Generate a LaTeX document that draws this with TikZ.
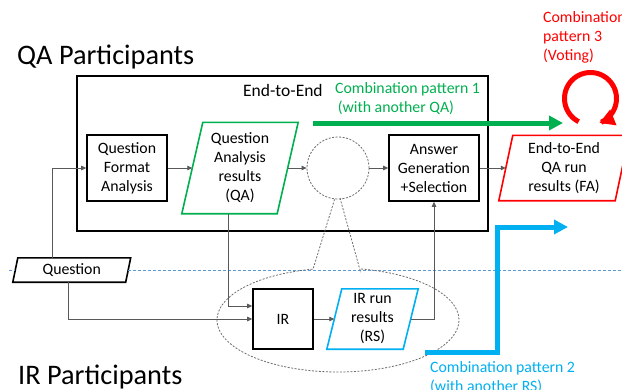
\documentclass[tikz,border=0pt]{standalone}
\usepackage{fontspec}
\setmainfont{Carlito}
\usetikzlibrary{arrows.meta,calc}
\definecolor{qagreen}{RGB}{0,176,80}
\definecolor{fared}{RGB}{255,0,0}
\definecolor{irblue}{RGB}{0,176,240}
\definecolor{sepblue}{RGB}{91,155,213}
\definecolor{conngray}{RGB}{89,89,89}
\definecolor{callgray}{RGB}{110,110,110}
\newcommand\bodyfont{\fontsize{15.8}{19}\selectfont}
\newcommand\labelfont{\fontsize{17.5}{19}\selectfont}
\newcommand\bigfont{\fontsize{28.3}{32}\selectfont}
\newcommand\paradraw[3]{\path[#1] ([xshift=#3]#2.north west) -- ([xshift=#3]#2.north east) -- ([xshift=-#3]#2.south east) -- ([xshift=-#3]#2.south west) -- cycle;}
\begin{document}
\begin{tikzpicture}[x=1pt,y=-1pt,
 txt/.style={font=\bodyfont,align=center,inner sep=0pt},
 stepbox/.style={txt,draw=black,line width=1.6pt},
 conn/.style={draw=conngray,line width=0.8pt,-{Triangle[length=5pt,width=4.5pt]}},
 bigarrow/.style={line width=5pt,-{Triangle[length=14pt,width=14pt]}},
 note/.style={font=\bodyfont,align=left,inner sep=0pt,anchor=base west},
 title/.style={font=\bigfont,inner sep=0pt,anchor=base west},
 callout/.style={draw=callgray,line width=0.8pt,dash pattern=on 2pt off 1.5pt}]

\useasboundingbox[fill=white] (0,0) rectangle (622,389);

% titles
\node[title] (qatitle) at (17,64) {QA Participants};
\node[title] (irtitle) at (18,384) {IR Participants};

% outer End-to-End box
\node[draw=black,line width=1.8pt,minimum width=411pt,minimum height=155pt,inner sep=0pt] (e2e) at (282.5,153.5) {};
\node[note,font=\labelfont] (e2elabel) at (243,96) {End-to-End};

% nodes
\node[stepbox,minimum width=80pt,minimum height=66pt] (qfa) at (127,168) {Question\\Format\\Analysis};
\node[txt,minimum width=95pt,minimum height=91pt] (qa) at (240,168) {Question\\Analysis\\results\\(QA)};
\paradraw{draw=qagreen,line width=1.6pt}{qa}{10.5pt}
\node[draw=callgray,line width=0.8pt,dash pattern=on 2pt off 1.5pt,circle,minimum size=62pt,inner sep=0pt] (circ) at (338,168) {};
\node[stepbox,minimum width=90pt,minimum height=66pt] (ag) at (434,168) {Answer\\Generation\\+Selection};
\node[txt,minimum width=116pt,minimum height=65pt] (fa) at (564,168) {End-to-End\\QA run\\results (FA)};
\paradraw{draw=fared,line width=1.6pt}{fa}{7pt}
\node[txt,minimum width=112.5pt,minimum height=24pt] (q) at (71.75,270) {Question};
\paradraw{draw=black,line width=1.6pt}{q}{2.5pt}
\node[stepbox,minimum width=60pt,minimum height=60pt] (ir) at (283,319) {IR};
\node[txt,minimum width=76pt,minimum height=60pt] (rs) at (372.5,319) {IR run\\results\\(RS)};
\paradraw{draw=irblue,line width=1.6pt}{rs}{7.5pt}

% separator line
\coordinate (s1) at (9,270);
\coordinate (s2) at (622,270);
\draw[sepblue,line width=0.7pt,dash pattern=on 3pt off 2pt] (s1) -- (q.west);
\draw[sepblue,line width=0.7pt,dash pattern=on 3pt off 2pt] (q.east) -- (s2);

% callout around IR part
\draw[callout] (340,198) -- (360,270) -- plot[domain=-79.5:258.1,samples=90,smooth] ({338+121*cos(\x)},{320+52*sin(\x)}) -- (335,198);

% connectors
\draw[conn] ([xshift=-19.75pt]q.north) |- (qfa.west);
\draw[conn] ([xshift=-3.75pt]q.south) |- (ir.west);
\draw[conn] ([xshift=-12pt]qa.south) |- ([yshift=13pt]ir.west);
\draw[conn] (qfa.east) -- (qa.west);
\draw[conn] (qa.east) -- (circ.west);
\draw[conn] (circ.east) -- (ag.west);
\draw[conn] (ag.east) -- (fa.west);
\draw[conn] (ir.east) -- (rs.west);
\draw[conn] (rs.east) -| (ag.south);

% combination pattern 1
\coordinate (g1) at (313,123);
\coordinate (g2) at (563,123);
\draw[bigarrow,qagreen] (g1) -- (g2);
\node[note,text=qagreen] (p1) at (335,112) {Combination pattern 1\\\,(with another QA)};

% combination pattern 2
\coordinate (b1) at (425,352);
\coordinate (b2) at (497,352);
\coordinate (b3) at (497,227);
\coordinate (b4) at (568,227);
\draw[bigarrow,irblue,line join=miter] (b1) -- (b2) -- (b3) -- (b4);
\node[note,text=irblue] (p2) at (430,391) {Combination pattern 2\\(with another RS)};

% combination pattern 3
\draw[line width=5pt,fared,-{Triangle[length=15pt,width=16pt]}] plot[domain=117:430,samples=60,smooth] ({590.5+26*cos(\x)},{98.5+26*sin(\x)});
\node[note,text=fared] (p3) at (543,60) {Combination\\pattern 3\\(Voting)};
\end{tikzpicture}
\end{document}
